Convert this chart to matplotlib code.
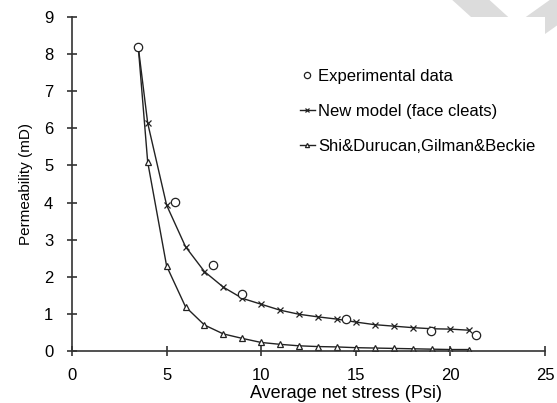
import matplotlib
matplotlib.use('Agg')
import matplotlib.pyplot as plt
from matplotlib.lines import Line2D

plt.rcParams['font.family'] = ['Liberation Sans', 'DejaVu Sans']

# experimental data
exp_x = [3.5, 5.45, 7.47, 9.0, 14.5, 18.95, 21.35]
exp_y = [8.2, 4.02, 2.32, 1.53, 0.86, 0.55, 0.43]

# new model (face cleats)
new_x = [3.5, 4, 5, 6, 7, 8, 9, 10, 11, 12, 13, 14, 15, 16, 17, 18, 19, 20, 21]
new_y = [8.2, 6.14, 3.93, 2.81, 2.14, 1.72, 1.42, 1.26, 1.10, 0.99, 0.92, 0.86,
         0.78, 0.71, 0.67, 0.63, 0.60, 0.59, 0.56]

# Shi&Durucan, Gilman&Beckie
shi_x = [3.5, 4, 5, 6, 7, 8, 9, 10, 11, 12, 13, 14, 15, 16, 17, 18, 19, 20, 21]
shi_y = [8.2, 5.09, 2.29, 1.19, 0.70, 0.46, 0.34, 0.23, 0.18, 0.14, 0.12, 0.11,
         0.09, 0.08, 0.07, 0.06, 0.05, 0.04, 0.04]

x_ticks = [0, 5, 10, 15, 20, 25]
y_ticks = [0, 1, 2, 3, 4, 5, 6, 7, 8, 9]

fig = plt.figure(figsize=(5.57, 4.03), dpi=100)
ax = fig.add_axes([0.1293, 0.129, 0.8492, 0.8288])

ax.plot(new_x, new_y, color='#222222', lw=1.0, marker='x', ms=4.5, mew=0.9,
        label='New model (face cleats)')
ax.plot(shi_x, shi_y, color='#222222', lw=1.0, marker='^', ms=4, mfc='white',
        mew=0.9, label='Shi&Durucan,Gilman&Beckie')
ax.plot(exp_x, exp_y, ls='none', marker='o', ms=6, mfc='white', mec='#222222',
        mew=0.9, label='Experimental data')

ax.set_xlim(0, 25)
ax.set_ylim(0, 9)
ax.set_xticks(x_ticks)
ax.set_yticks(y_ticks)
ax.spines['top'].set_visible(False)
ax.spines['right'].set_visible(False)
for s in ('left', 'bottom'):
    ax.spines[s].set_color('#333333')
    ax.spines[s].set_linewidth(1.2)
ax.tick_params(direction='inout', length=7, width=1.2, color='#333333',
               labelsize=12)
ax.tick_params(axis='y', pad=10)
ax.tick_params(axis='x', pad=9)

ax.set_xlabel('Average net stress (Psi)', fontsize=13)
ax.xaxis.set_label_coords(0.58, -0.103)
ax.set_ylabel('Permeability (mD)', fontsize=11, labelpad=8)

handles, labels = ax.get_legend_handles_labels()
order = [2, 0, 1]
ax.legend([handles[i] for i in order], [labels[i] for i in order],
          loc='upper left', bbox_to_anchor=(0.45, 0.89), frameon=False,
          fontsize=12, handlelength=0.9, handletextpad=0.2, labelspacing=1.2,
          markerscale=0.75)

# grey watermark stroke at top right
fig.add_artist(Line2D([462 / 557, 515 / 557, 560 / 557],
                      [1.02, 1 - 40 / 403, 1 - 8 / 403],
                      transform=fig.transFigure, color='#dcdcdc', lw=18,
                      solid_joinstyle='round', zorder=-1))

fig.savefig('out.png', dpi=100)
